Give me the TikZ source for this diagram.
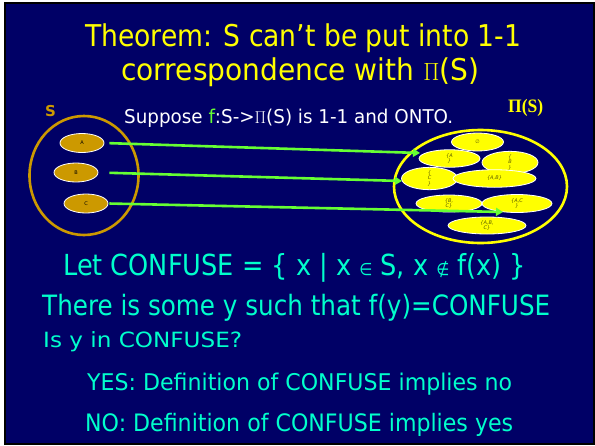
\documentclass[tikz,border=0pt]{standalone}
\usepackage{fontspec}
\usepackage{graphicx}
\setmainfont{DejaVu Sans}
\newfontfamily\serifb{Liberation Serif}
\usetikzlibrary{shapes.geometric,arrows.meta}
\definecolor{navy}{RGB}{0,0,102}
\definecolor{gold}{RGB}{204,153,0}
\definecolor{ttl}{RGB}{255,255,0}
\definecolor{aqua}{RGB}{0,255,204}
\definecolor{agreen}{RGB}{102,255,51}
\definecolor{lbl}{RGB}{90,90,0}
\newcommand{\fitw}[2]{\resizebox{#1}{\height}{#2}}
\newcommand{\smallsym}[1]{{\fontsize{17}{20}\selectfont #1}}
\tikzset{
  txt/.style={inner sep=0pt, anchor=base west},
  sel/.style={ellipse, draw=white, line width=0.8pt, fill=gold, inner sep=0pt,
    minimum width=44pt, minimum height=19pt, text=black, font=\fontsize{5}{5}\selectfont},
  pel/.style={ellipse, draw=white, line width=0.8pt, fill=ttl, inner sep=0pt,
    text=lbl, align=center, font=\fontsize{5}{5.6}\selectfont\itshape},
  conn/.style={draw=agreen, line width=2.6pt, -{Triangle[length=7pt,width=8pt]}},
}
\begin{document}
\begin{tikzpicture}[x=1pt,y=-1pt]
\useasboundingbox (0,0) rectangle (595,445);
\fill[white] (0,0) rectangle (595,445);
\fill[black] (4,2) rectangle (595,445);
\fill[navy] (6,4) rectangle (593,443);
% title
\node[txt, text=ttl, font=\fontsize{30}{36}\selectfont] (t1) at (85,46.7) {\fitw{436pt}{Theorem: S can’t be put into 1-1}};
\node[txt, text=ttl, font=\fontsize{30}{36}\selectfont] (t2) at (121,80) {\fitw{358pt}{correspondence with $\Pi$(S)}};
% suppose line
\node[txt, text=white, font=\fontsize{19}{22}\selectfont] (sup) at (124,123) {\fitw{329pt}{Suppose \textcolor{agreen}{f}:S->$\Pi$(S) is 1-1 and ONTO.}};
\node[txt, text=gold, font=\fontsize{15}{18}\selectfont\bfseries] (slab) at (45,116) {S};
\node[txt, text=ttl, font=\fontsize{19}{22}\selectfont\serifb\bfseries] (plab) at (508,112.7) {\fitw{35pt}{Π(S)}};
% set S
\node[ellipse, draw=gold, line width=2.6pt, minimum width=109pt, minimum height=119pt, inner sep=0pt] (setS) at (84,175.5) {};
\node[sel] (nA) at (82,143) {A};
\node[sel] (nB) at (76,172.5) {B};
\node[sel] (nC) at (86,203.5) {C};
% power set
\node[ellipse, draw=ttl, line width=2.6pt, minimum width=173pt, minimum height=113pt, inner sep=0pt] (setP) at (480.5,186.5) {};
\node[pel, minimum width=52pt, minimum height=18pt] (p0) at (477.5,142) {∅};
\node[pel, minimum width=61pt, minimum height=17.5pt] (pA) at (449.5,158.5) {\{A\\\}};
\node[pel, minimum width=56pt, minimum height=17pt] (pB) at (510,162.5) {\{\\B\\\}};
\node[pel, minimum width=56pt, minimum height=18.5pt] (pC) at (429.5,178.5) {\{\\C\\\}};
\node[pel, minimum width=83pt, minimum height=17.5pt] (pAB) at (494.5,178.5) {\{A,B\}};
\node[pel, minimum width=66pt, minimum height=17pt] (pBC) at (449,203.5) {\{B,\\C\}};
\node[pel, minimum width=70pt, minimum height=18pt] (pAC) at (517,203.5) {\{A,C\\\}};
\node[pel, minimum width=78pt, minimum height=17pt] (pABC) at (487,225.5) {\{A,B,\\C\}};
% arrows
\coordinate (e1) at (420,153);
\coordinate (e2) at (402,181);
\coordinate (e3) at (503,212);
\draw[conn, shorten <=5pt] (nA.east) -- (e1);
\draw[conn, shorten <=11pt] (nB.east) -- (e2);
\draw[conn, shorten <=1pt] (nC.east) -- (e3);
% bottom text
\node[txt, text=aqua, font=\fontsize{29}{34}\selectfont] (l1) at (63,275) {\fitw{463pt}{Let CONFUSE = \{ x | x \smallsym{∈} S, x \smallsym{∉} f(x) \}}};
\node[txt, text=aqua, font=\fontsize{28}{34}\selectfont] (l2) at (42,315) {\fitw{508pt}{There is some y such that f(y)=CONFUSE}};
\node[txt, text=aqua, font=\fontsize{21}{25}\selectfont] (l3) at (43,347) {\fitw{199pt}{Is y in CONFUSE?}};
\node[txt, text=aqua, font=\fontsize{23}{28}\selectfont] (l4) at (87,390) {\fitw{425pt}{YES: Definition of CONFUSE implies no}};
\node[txt, text=aqua, font=\fontsize{24}{29}\selectfont] (l5) at (85,431) {\fitw{428pt}{NO: Definition of CONFUSE implies yes}};
\end{tikzpicture}
\end{document}
